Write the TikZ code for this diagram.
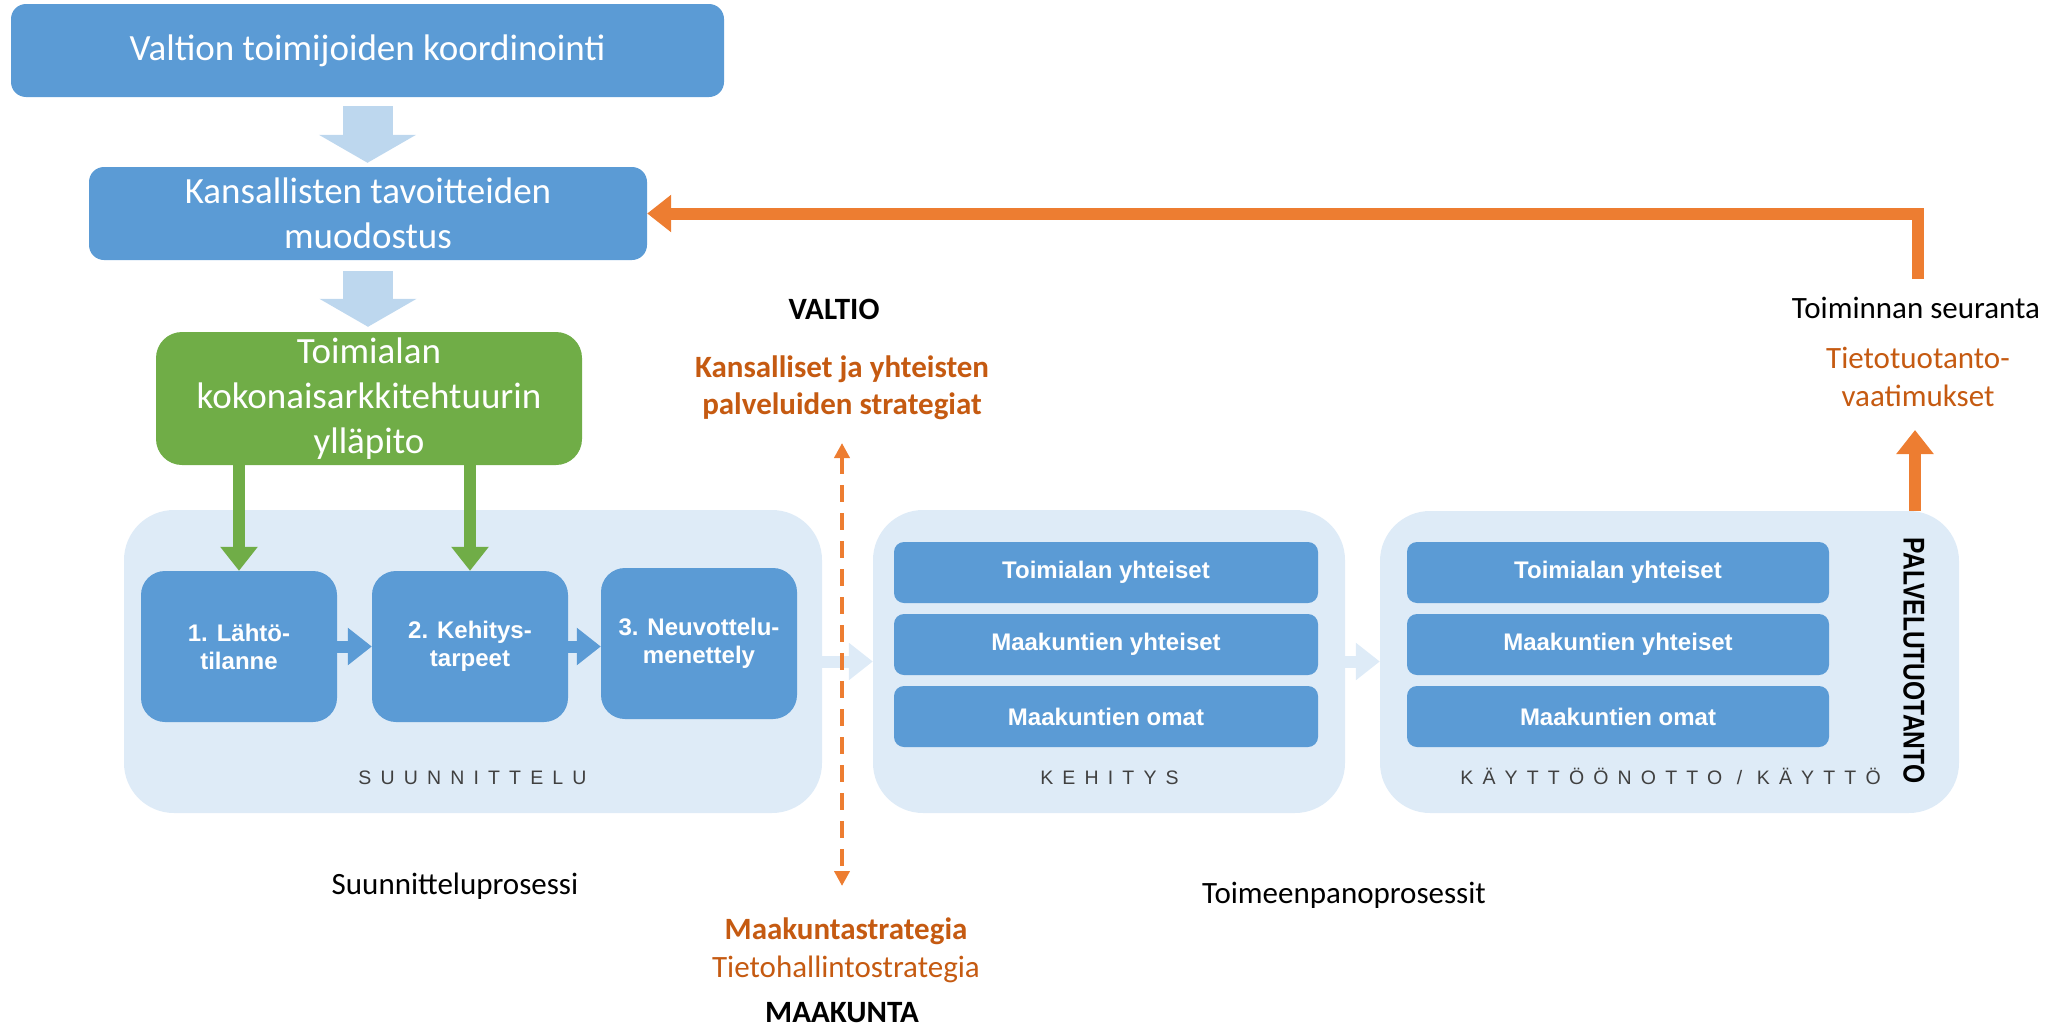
\documentclass[tikz,border=0pt]{standalone}
\usepackage{fontspec}
\setmainfont{Carlito}
\newfontfamily\arialfont{Liberation Sans}
\newfontfamily\narrowfont[FakeStretch=0.82]{Liberation Sans}
\usetikzlibrary{arrows.meta}

\definecolor{boxblue}{RGB}{91,155,213}
\definecolor{kagreen}{RGB}{112,173,71}
\definecolor{phasebg}{RGB}{222,235,247}
\definecolor{arrowlight}{RGB}{189,215,238}
\definecolor{orangeline}{RGB}{237,125,49}
\definecolor{orangetext}{RGB}{197,90,17}
\definecolor{labelgray}{RGB}{64,64,64}

\tikzset{
  titlebox/.style={fill=boxblue, text=white, rounded corners=15pt, align=center, inner sep=0pt, font=\fontsize{37}{45}\selectfont},
  archbox/.style={titlebox, fill=kagreen, rounded corners=26pt},
  stepbox/.style={fill=boxblue, text=white, rounded corners=24pt, minimum width=196pt, minimum height=151pt, align=center, inner sep=0pt, font=\arialfont\bfseries\fontsize{24}{28}\selectfont},
  rowbox/.style={fill=boxblue, text=white, rounded corners=10pt, minimum height=61pt, inner sep=0pt, font=\arialfont\bfseries\fontsize{24}{28}\selectfont},
  phasebox/.style={fill=phasebg, rounded corners=50pt, minimum height=303pt, inner sep=0pt},
  phaselabel/.style={text=labelgray, inner sep=0pt, anchor=base, font=\arialfont\fontsize{19.5}{22}\selectfont\addfontfeature{LetterSpace=47}},
  note/.style={inner sep=0pt, align=center, font=\fontsize{31}{37}\selectfont},
  boldnote/.style={note, font=\bfseries\fontsize{31}{37}\selectfont},
  stagearrow/.style={line width=50pt, draw=arrowlight, -{Triangle[width=96pt,length=28pt]}},
  flowarrow/.style={line width=12pt, -{Triangle[width=36pt,length=24pt]}},
  strategyline/.style={line width=4pt, draw=orangeline, dash pattern=on 17pt off 11pt,
    {Triangle[width=15pt,length=15pt]}-{Triangle[width=15pt,length=15pt]}}
}

\begin{document}
\begin{tikzpicture}[x=1pt,y=-1pt]
\useasboundingbox (0,0) rectangle (2057,1028);

\draw (367.5,50.5) node (valtio) [titlebox, minimum width=713pt, minimum height=93pt] {Valtion toimijoiden koordinointi};
\draw (368,213.5) node (kans) [titlebox, minimum width=558pt, minimum height=93pt] {Kansallisten tavoitteiden\\muodostus};
\draw (369,398.5) node (arkki) [archbox, minimum width=426pt, minimum height=133pt] {Toimialan\\kokonaisarkkitehtuurin\\ylläpito};
\draw[stagearrow, shorten <=9pt, shorten >=4pt] (valtio.south) -- (valtio.south |- kans.north);
\draw[stagearrow, shorten <=11pt, shorten >=5pt] (kans.south) -- (kans.south |- arkki.north);

% phases
\draw (473,661.5) node (suunn) [phasebox, minimum width=698pt] {};
\draw (1109,661.5) node (kehit) [phasebox, minimum width=472pt] {};
\draw (1669.5,662) node (kaytto) [phasebox, minimum width=579pt, minimum height=302pt] {};

\draw (239,646.5) node (step1) [stepbox] {1. Lähtö-\\tilanne};
\draw (470,646.5) node (step2) [stepbox] {2. Kehitys-\\tarpeet};
\draw (699,643.5) node (step3) [stepbox] {3. Neuvottelu-\\menettely};
\draw[flowarrow, draw=boxblue] (step1) -- (step2);
\draw[flowarrow, draw=boxblue] (step2.east) -- (step2.east -| step3.west);

\foreach \col/\cx/\w in {kehit/1106/424, kaytto/1618/422}
  \foreach \row/\cy/\txt in {a/572.5/Toimialan yhteiset, b/644.5/Maakuntien yhteiset, c/716.5/Maakuntien omat}
    \draw (\cx,\cy) node (\col\row) [rowbox, minimum width=\w pt] {\txt};

\draw (472.5,784) node (suunnlbl) [phaselabel] {SUUNNITTELU};
\draw (1109.5,784) node (kehitlbl) [phaselabel] {KEHITYS};
\draw (1670.5,784) node (kayttolbl) [phaselabel] {KÄYTTÖÖNOTTO / KÄYTTÖ};
\draw (1914,660.5) node (palvelu) [inner sep=0pt, rotate=-90, font=\narrowfont\bfseries\fontsize{30}{32}\selectfont] {PALVELUTUOTANTO};

\draw[flowarrow, draw=kagreen] (arkki.south -| step1.north) -- (step1.north);
\draw[flowarrow, draw=kagreen] (arkki.south -| step2.north) -- (step2.north);
\draw[flowarrow, draw=phasebg] (suunn) -- (kehit);
\draw[flowarrow, draw=phasebg] (kehit.east) -- (kehit.east -| kaytto.west);

% strategies
\draw (834,319) node (valtiolbl) [boldnote, anchor=base] {VALTIO};
\draw (842,388) node (kanstrat) [boldnote, text=orangetext] {Kansalliset ja yhteisten\\palveluiden strategiat};
\draw (846,939) node (maakstrat) [boldnote, anchor=base, text=orangetext] {Maakuntastrategia};
\draw (846,977) node (tietostrat) [note, anchor=base, text=orangetext] {Tietohallintostrategia};
\draw (842,1022) node (maaklbl) [boldnote, anchor=base] {MAAKUNTA};
\coordinate (strtop) at (842,443);
\coordinate (strbot) at (842,886);
\draw[strategyline] (strtop) -- (strbot);

\draw (455,894) node (suunnproc) [note, anchor=base] {Suunnitteluprosessi};
\draw (1344,903) node (toimproc) [note, anchor=base] {Toimeenpanoprosessit};

% monitoring
\draw (1916,318) node (seuranta) [note, anchor=base] {Toiminnan seuranta};
\draw (1918,376.5) node (vaatim) [note, text=orangetext, font=\fontsize{31}{38}\selectfont] {Tietotuotanto-\\vaatimukset};
\coordinate (seurtop) at (1918,279);
\coordinate (vaatimtip) at (1915,430);
\draw[flowarrow, draw=orangeline] (seurtop) |- (kans.east);
\draw[flowarrow, draw=orangeline] (kaytto.north -| vaatimtip) -- (vaatimtip);
\end{tikzpicture}
\end{document}
